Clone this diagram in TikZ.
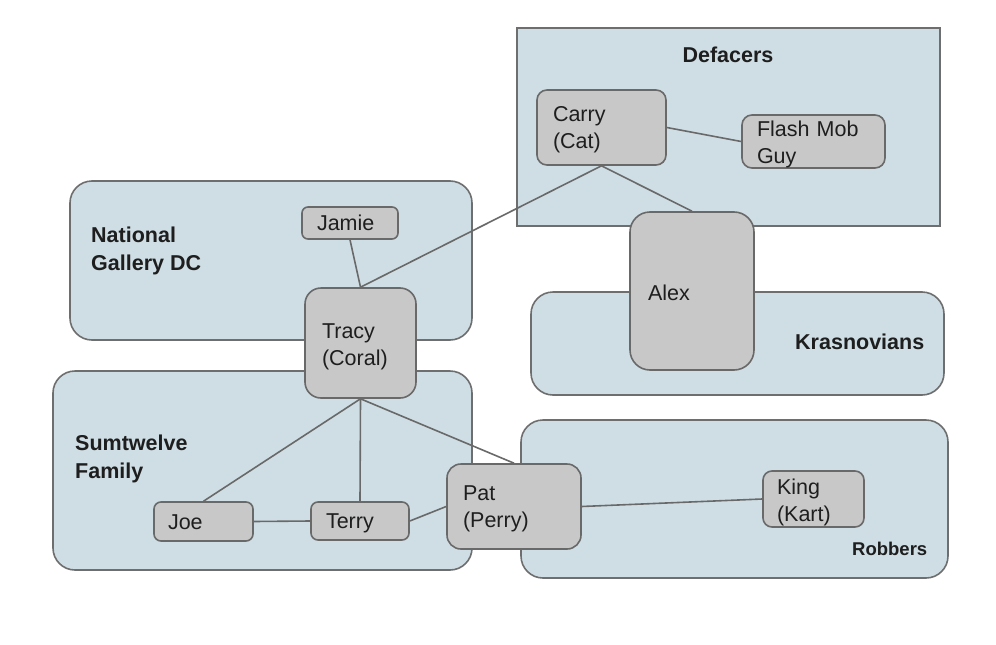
\documentclass[tikz,border=0pt]{standalone}
\usepackage{fontspec}
\setmainfont{Liberation Sans}
\definecolor{grpfill}{RGB}{207,222,228}
\definecolor{grpdraw}{RGB}{110,110,110}
\definecolor{boxfill}{RGB}{200,200,200}
\definecolor{boxdraw}{RGB}{105,105,105}
\definecolor{txt}{RGB}{30,30,30}
\definecolor{edge}{RGB}{105,105,105}
\pgfdeclarelayer{groups}
\pgfdeclarelayer{edges}
\pgfsetlayers{groups,edges,main}
\newcommand{\txl}[2][7.7pt]{\raisebox{-#1}[0pt][0pt]{#2}}
\begin{document}
\begin{tikzpicture}[x=1pt,y=-1pt,
  grp/.style={draw=grpdraw,fill=grpfill,line width=1.6pt,rounded corners=22pt,inner sep=0pt},
  sqgrp/.style={draw=grpdraw,fill=grpfill,line width=1.6pt,inner sep=0pt},
  person/.style={draw=boxdraw,fill=boxfill,line width=1.6pt,rounded corners=10pt,
     font=\fontsize{21.5}{27}\selectfont,text=txt,align=left,inner ysep=0pt},
  glabel/.style={font=\fontsize{21.5}{28}\selectfont\bfseries,text=txt,align=left,inner sep=0pt},
  link/.style={draw=edge,line width=1.6pt}]
\useasboundingbox (0,0) rectangle (996,645);
% groups
\begin{pgfonlayer}{groups}
\node[sqgrp,minimum width=423pt,minimum height=198pt] (defacers) at (728.5,127) {};
\node[grp,minimum width=402pt,minimum height=159pt] (ngdc) at (271,260.5) {};
\node[grp,minimum width=413pt,minimum height=103pt] (kras) at (737.5,343.5) {};
\node[grp,minimum width=419pt,minimum height=199pt] (sumtwelve) at (262.5,470.5) {};
\node[grp,minimum width=427pt,minimum height=158pt] (robbers) at (734.5,499) {};
\end{pgfonlayer}
% group labels
\node[glabel] (ldef) at (728,55) {Defacers};
\node[glabel,anchor=west] (lngdc) at (91,251) {National\\Gallery DC};
\node[glabel,anchor=west] (lkras) at (795,342) {Krasnovians};
\node[glabel,anchor=west] (lsum) at (75,459) {Sumtwelve\\Family};
\node[glabel,anchor=west,font=\fontsize{18.5}{22}\selectfont\bfseries] (lrob) at (852,549) {Robbers};
% people
\node[person,minimum width=129pt,minimum height=75pt,text width=97pt,inner xsep=16pt] (carry) at (601.5,127.5) {\txl{Carry}\\\txl{(Cat)}};
\node[person,minimum width=143pt,minimum height=53pt,text width=113pt,inner xsep=15pt] (flash) at (813.5,141.5) {\txl[8.7pt]{Flash Mob}\\\txl[8.7pt]{Guy}};
\node[person,minimum width=96pt,minimum height=32pt,text width=66pt,inner xsep=15pt,rounded corners=6pt] (jamie) at (350,223) {\txl{Jamie}};
\node[person,minimum width=111pt,minimum height=110pt,text width=77pt,inner xsep=17pt,rounded corners=16pt] (tracy) at (360.5,343) {\txl[9pt]{Tracy}\\\txl[9pt]{(Coral)}};
\node[person,minimum width=124pt,minimum height=158pt,text width=88pt,inner xsep=18pt,rounded corners=20pt] (alex) at (692,291) {\txl[9.7pt]{Alex}};
\node[person,minimum width=99pt,minimum height=39pt,text width=71pt,inner xsep=14pt,rounded corners=7pt] (joe) at (203.5,521.5) {\txl{Joe}};
\node[person,minimum width=98pt,minimum height=38pt,text width=68pt,inner xsep=15pt,rounded corners=7pt] (terry) at (360,521) {\txl{Terry}};
\node[person,minimum width=134pt,minimum height=85pt,text width=102pt,inner xsep=16pt,rounded corners=14pt] (pat) at (514,506.5) {\txl{Pat}\\\txl{(Perry)}};
\node[person,minimum width=101pt,minimum height=56pt,text width=73pt,inner xsep=14pt,rounded corners=9pt] (king) at (813.5,499) {\txl[9.2pt]{King}\\\txl[9.2pt]{(Kart)}};
% connectors
\begin{pgfonlayer}{edges}
\draw[link] (carry.south) -- (tracy.north);
\draw[link] (carry.south) -- (alex.north);
\draw[link] (carry.east) -- (flash.west);
\draw[link] (jamie.south) -- (tracy.north);
\draw[link] (tracy.south) -- (joe.north);
\draw[link] (tracy.south) -- (terry.north);
\draw[link] (tracy.south) -- (pat.north);
\draw[link] (joe.east) -- (terry.west);
\draw[link] (terry.east) -- (pat.west);
\draw[link] (pat.east) -- (king.west);
\end{pgfonlayer}
\end{tikzpicture}
\end{document}
